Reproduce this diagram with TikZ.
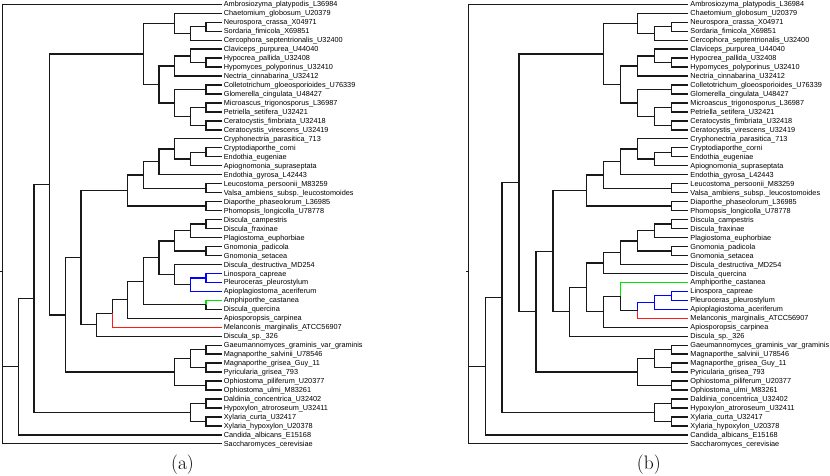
\documentclass[tikz,border=0pt]{standalone}
\usepackage{fontspec}
\newfontfamily\lblfont{Liberation Sans}
\usetikzlibrary{calc}
\tikzset{
  br/.style={line width=1.3pt, draw=black!90},
  lbl/.style={anchor=base west, inner sep=0pt, xshift=2pt, yshift=-2.6pt,
    font=\lblfont\fontsize{7.3}{8}\selectfont, text=black},
  captxt/.style={font=\fontsize{19.5}{22}\selectfont, anchor=base, inner sep=0pt},
  blu/.style={draw=blue}, grn/.style={draw=green!90!black}, rd/.style={draw=red!90!white}
}
\newcommand\leaf[4]{\coordinate (#1) at (#2,{4.3+(#3-1)*8.97}); \node[lbl] (#1t) at (#1) {#4};}
\newcommand\inn[6]{\path let \p1=($(#3)!0.5!(#4)$), \p2=(#2) in (\x2,\y1) coordinate (#1);
  \draw[br,#5] (#1) |- (#3); \draw[br,#6] (#1) |- (#4);}
\begin{document}
\begin{tikzpicture}[x=1pt,y=-1pt]
\useasboundingbox (0,0) rectangle (830,476);
\foreach \k in {0,...,14} {\coordinate (A\k) at ({2.7+15.64*\k},0);}
\foreach \k in {0,...,13} {\coordinate (B\k) at ({468.3+16.92*\k},0);}
\coordinate (A00) at (0,0);
\coordinate (B00) at (465.6,0);
% ---------------- tree (a) leaves
\leaf{a1}{221.66}{1}{Ambrosiozyma\_platypodis\_L36984}
\leaf{a2}{221.66}{2}{Chaetomium\_globosum\_U20379}
\leaf{a3}{221.66}{3}{Neurospora\_crassa\_X04971}
\leaf{a4}{221.66}{4}{Sordaria\_fimicola\_X69851}
\leaf{a5}{221.66}{5}{Cercophora\_septentrionalis\_U32400}
\leaf{a6}{221.66}{6}{Claviceps\_purpurea\_U44040}
\leaf{a7}{221.66}{7}{Hypocrea\_pallida\_U32408}
\leaf{a8}{221.66}{8}{Hypomyces\_polyporinus\_U32410}
\leaf{a9}{221.66}{9}{Nectria\_cinnabarina\_U32412}
\leaf{a10}{221.66}{10}{Colletotrichum\_gloeosporioides\_U76339}
\leaf{a11}{221.66}{11}{Glomerella\_cingulata\_U48427}
\leaf{a12}{221.66}{12}{Microascus\_trigonosporus\_L36987}
\leaf{a13}{221.66}{13}{Petriella\_setifera\_U32421}
\leaf{a14}{221.66}{14}{Ceratocystis\_fimbriata\_U32418}
\leaf{a15}{221.66}{15}{Ceratocystis\_virescens\_U32419}
\leaf{a16}{221.66}{16}{Cryphonectria\_parasitica\_713}
\leaf{a17}{221.66}{17}{Cryptodiaporthe\_corni}
\leaf{a18}{221.66}{18}{Endothia\_eugeniae}
\leaf{a19}{221.66}{19}{Apiognomonia\_supraseptata}
\leaf{a20}{221.66}{20}{Endothia\_gyrosa\_L42443}
\leaf{a21}{221.66}{21}{Leucostoma\_persoonii\_M83259}
\leaf{a22}{221.66}{22}{Valsa\_ambiens\_subsp.\_leucostomoides}
\leaf{a23}{221.66}{23}{Diaporthe\_phaseolorum\_L36985}
\leaf{a24}{221.66}{24}{Phomopsis\_longicolla\_U78778}
\leaf{a25}{221.66}{25}{Discula\_campestris}
\leaf{a26}{221.66}{26}{Discula\_fraxinae}
\leaf{a27}{221.66}{27}{Plagiostoma\_euphorbiae}
\leaf{a28}{221.66}{28}{Gnomonia\_padicola}
\leaf{a29}{221.66}{29}{Gnomonia\_setacea}
\leaf{a30}{221.66}{30}{Discula\_destructiva\_MD254}
\leaf{a31}{221.66}{31}{Linospora\_capreae}
\leaf{a32}{221.66}{32}{Pleuroceras\_pleurostylum}
\leaf{a33}{221.66}{33}{Apioplagiostoma\_aceriferum}
\leaf{a34}{221.66}{34}{Amphiporthe\_castanea}
\leaf{a35}{221.66}{35}{Discula\_quercina}
\leaf{a36}{221.66}{36}{Apiosporopsis\_carpinea}
\leaf{a37}{221.66}{37}{Melanconis\_marginalis\_ATCC56907}
\leaf{a38}{221.66}{38}{Discula\_sp.\_326}
\leaf{a39}{221.66}{39}{Gaeumannomyces\_graminis\_var\_graminis}
\leaf{a40}{221.66}{40}{Magnaporthe\_salvinii\_U78546}
\leaf{a41}{221.66}{41}{Magnaporthe\_grisea\_Guy\_11}
\leaf{a42}{221.66}{42}{Pyricularia\_grisea\_793}
\leaf{a43}{221.66}{43}{Ophiostoma\_piliferum\_U20377}
\leaf{a44}{221.66}{44}{Ophiostoma\_ulmi\_M83261}
\leaf{a45}{221.66}{45}{Daldinia\_concentrica\_U32402}
\leaf{a46}{221.66}{46}{Hypoxylon\_atroroseum\_U32411}
\leaf{a47}{221.66}{47}{Xylaria\_curta\_U32417}
\leaf{a48}{221.66}{48}{Xylaria\_hypoxylon\_U20378}
\leaf{a49}{221.66}{49}{Candida\_albicans\_E15168}
\leaf{a50}{221.66}{50}{Saccharomyces\_cerevisiae}
% ---------------- tree (a) internal nodes
\inn{aNS}{A13}{a3}{a4}{}{}
\inn{aC}{A12}{aNS}{a5}{}{}
\inn{aB}{A11}{a2}{aC}{}{}
\inn{aHH}{A13}{a7}{a8}{}{}
\inn{aE12}{A12}{a6}{aHH}{}{}
\inn{aE}{A11}{aE12}{a9}{}{}
\inn{aCG}{A13}{a10}{a11}{}{}
\inn{aMP}{A13}{a12}{a13}{}{}
\inn{aCF}{A13}{a14}{a15}{}{}
\inn{aG}{A12}{aMP}{aCF}{}{}
\inn{aF}{A11}{aCG}{aG}{}{}
\inn{aD}{A10}{aE}{aF}{}{}
\inn{aA}{A9}{aB}{aD}{}{}
\inn{aCE}{A13}{a17}{a18}{}{}
\inn{aCEA}{A12}{aCE}{a19}{}{}
\inn{aZ}{A11}{a16}{aCEA}{}{}
\inn{aY}{A10}{aZ}{a20}{}{}
\inn{aLV}{A13}{a21}{a22}{}{}
\inn{aX}{A9}{aY}{aLV}{}{}
\inn{aDP}{A13}{a23}{a24}{}{}
\inn{aL}{A8}{aX}{aDP}{}{}
\inn{aDCF}{A13}{a25}{a26}{}{}
\inn{aW}{A12}{aDCF}{a27}{}{}
\inn{aGG}{A13}{a28}{a29}{}{}
\inn{aT}{A11}{aW}{aGG}{}{}
\inn{aLP}{A13}{a31}{a32}{blu}{blu}
\inn{aV}{A12}{aLP}{a33}{blu}{blu}
\inn{aU}{A11}{a30}{aV}{}{}
\inn{aS}{A10}{aT}{aU}{}{}
\inn{aAD}{A13}{a34}{a35}{grn}{}
\inn{aR}{A9}{aS}{aAD}{}{}
\inn{aQ}{A8}{aR}{a36}{}{}
\inn{aP}{A7}{aQ}{a37}{}{rd}
\inn{aN}{A6}{aP}{a38}{}{}
\inn{aM}{A5}{aL}{aN}{}{}
\inn{aGM}{A13}{a39}{a40}{}{}
\inn{aMPy}{A13}{a41}{a42}{}{}
\inn{aO12}{A12}{aGM}{aMPy}{}{}
\inn{aOO}{A13}{a43}{a44}{}{}
\inn{aO}{A11}{aO12}{aOO}{}{}
\inn{aI}{A4}{aM}{aO}{}{}
\inn{aH}{A3}{aA}{aI}{}{}
\inn{aDH}{A13}{a45}{a46}{}{}
\inn{aXX}{A13}{a47}{a48}{}{}
\inn{aXy}{A12}{aDH}{aXX}{}{}
\inn{aJ}{A2}{aH}{aXy}{}{}
\inn{aK}{A1}{aJ}{a49}{}{}
\path let \p1=($0.33333*(a1)+0.33333*(aK)+0.33334*(a50)$), \p2=(A0) in (\x2,\y1) coordinate (aroot);
\draw[br] (aroot) |- (a1);
\draw[br] (aroot) |- (aK);
\draw[br] (aroot) |- (a50);
\path (aroot -| A00) coordinate (ain);
\draw[br] (ain) -- (aroot);
% ---------------- tree (b) leaves
\leaf{b1}{688.26}{1}{Ambrosiozyma\_platypodis\_L36984}
\leaf{b2}{688.26}{2}{Chaetomium\_globosum\_U20379}
\leaf{b3}{688.26}{3}{Neurospora\_crassa\_X04971}
\leaf{b4}{688.26}{4}{Sordaria\_fimicola\_X69851}
\leaf{b5}{688.26}{5}{Cercophora\_septentrionalis\_U32400}
\leaf{b6}{688.26}{6}{Claviceps\_purpurea\_U44040}
\leaf{b7}{688.26}{7}{Hypocrea\_pallida\_U32408}
\leaf{b8}{688.26}{8}{Hypomyces\_polyporinus\_U32410}
\leaf{b9}{688.26}{9}{Nectria\_cinnabarina\_U32412}
\leaf{b10}{688.26}{10}{Colletotrichum\_gloeosporioides\_U76339}
\leaf{b11}{688.26}{11}{Glomerella\_cingulata\_U48427}
\leaf{b12}{688.26}{12}{Microascus\_trigonosporus\_L36987}
\leaf{b13}{688.26}{13}{Petriella\_setifera\_U32421}
\leaf{b14}{688.26}{14}{Ceratocystis\_fimbriata\_U32418}
\leaf{b15}{688.26}{15}{Ceratocystis\_virescens\_U32419}
\leaf{b16}{688.26}{16}{Cryphonectria\_parasitica\_713}
\leaf{b17}{688.26}{17}{Cryptodiaporthe\_corni}
\leaf{b18}{688.26}{18}{Endothia\_eugeniae}
\leaf{b19}{688.26}{19}{Apiognomonia\_supraseptata}
\leaf{b20}{688.26}{20}{Endothia\_gyrosa\_L42443}
\leaf{b21}{688.26}{21}{Leucostoma\_persoonii\_M83259}
\leaf{b22}{688.26}{22}{Valsa\_ambiens\_subsp.\_leucostomoides}
\leaf{b23}{688.26}{23}{Diaporthe\_phaseolorum\_L36985}
\leaf{b24}{688.26}{24}{Phomopsis\_longicolla\_U78778}
\leaf{b25}{688.26}{25}{Discula\_campestris}
\leaf{b26}{688.26}{26}{Discula\_fraxinae}
\leaf{b27}{688.26}{27}{Plagiostoma\_euphorbiae}
\leaf{b28}{688.26}{28}{Gnomonia\_padicola}
\leaf{b29}{688.26}{29}{Gnomonia\_setacea}
\leaf{b30}{688.26}{30}{Discula\_destructiva\_MD254}
\leaf{b31}{688.26}{31}{Discula\_quercina}
\leaf{b32}{688.26}{32}{Amphiporthe\_castanea}
\leaf{b33}{688.26}{33}{Linospora\_capreae}
\leaf{b34}{688.26}{34}{Pleuroceras\_pleurostylum}
\leaf{b35}{688.26}{35}{Apioplagiostoma\_aceriferum}
\leaf{b36}{688.26}{36}{Melanconis\_marginalis\_ATCC56907}
\leaf{b37}{688.26}{37}{Apiosporopsis\_carpinea}
\leaf{b38}{688.26}{38}{Discula\_sp.\_326}
\leaf{b39}{688.26}{39}{Gaeumannomyces\_graminis\_var\_graminis}
\leaf{b40}{688.26}{40}{Magnaporthe\_salvinii\_U78546}
\leaf{b41}{688.26}{41}{Magnaporthe\_grisea\_Guy\_11}
\leaf{b42}{688.26}{42}{Pyricularia\_grisea\_793}
\leaf{b43}{688.26}{43}{Ophiostoma\_piliferum\_U20377}
\leaf{b44}{688.26}{44}{Ophiostoma\_ulmi\_M83261}
\leaf{b45}{688.26}{45}{Daldinia\_concentrica\_U32402}
\leaf{b46}{688.26}{46}{Hypoxylon\_atroroseum\_U32411}
\leaf{b47}{688.26}{47}{Xylaria\_curta\_U32417}
\leaf{b48}{688.26}{48}{Xylaria\_hypoxylon\_U20378}
\leaf{b49}{688.26}{49}{Candida\_albicans\_E15168}
\leaf{b50}{688.26}{50}{Saccharomyces\_cerevisiae}
% ---------------- tree (b) internal nodes
\inn{bNS}{B12}{b3}{b4}{}{}
\inn{bC}{B11}{bNS}{b5}{}{}
\inn{bB}{B10}{b2}{bC}{}{}
\inn{bHH}{B12}{b7}{b8}{}{}
\inn{bE12}{B11}{b6}{bHH}{}{}
\inn{bE}{B10}{bE12}{b9}{}{}
\inn{bCG}{B12}{b10}{b11}{}{}
\inn{bMP}{B12}{b12}{b13}{}{}
\inn{bCF}{B12}{b14}{b15}{}{}
\inn{bG}{B11}{bMP}{bCF}{}{}
\inn{bF}{B10}{bCG}{bG}{}{}
\inn{bD}{B9}{bE}{bF}{}{}
\inn{bA}{B8}{bB}{bD}{}{}
\inn{bCE}{B12}{b17}{b18}{}{}
\inn{bCEA}{B11}{bCE}{b19}{}{}
\inn{bZ}{B10}{b16}{bCEA}{}{}
\inn{bY}{B9}{bZ}{b20}{}{}
\inn{bLV}{B12}{b21}{b22}{}{}
\inn{bX}{B8}{bY}{bLV}{}{}
\inn{bDP}{B12}{b23}{b24}{}{}
\inn{bL}{B7}{bX}{bDP}{}{}
\inn{bDCF}{B12}{b25}{b26}{}{}
\inn{bW}{B11}{bDCF}{b27}{}{}
\inn{bGG}{B12}{b28}{b29}{}{}
\inn{bT}{B10}{bW}{bGG}{}{}
\inn{bR}{B9}{bT}{b30}{}{}
\inn{bQ}{B8}{bR}{b31}{}{}
\inn{bLP}{B12}{b33}{b34}{blu}{blu}
\inn{bV}{B11}{bLP}{b35}{blu}{blu}
\inn{bX2}{B10}{bV}{b36}{blu}{rd}
\inn{bX1}{B9}{b32}{bX2}{grn}{}
\inn{bY2}{B8}{bX1}{b37}{}{}
\inn{bP}{B7}{bQ}{bY2}{}{}
\inn{bN}{B6}{bP}{b38}{}{}
\inn{bM}{B5}{bL}{bN}{}{}
\inn{bGM}{B12}{b39}{b40}{}{}
\inn{bMPy}{B12}{b41}{b42}{}{}
\inn{bO12}{B11}{bGM}{bMPy}{}{}
\inn{bOO}{B12}{b43}{b44}{}{}
\inn{bO}{B10}{bO12}{bOO}{}{}
\inn{bI}{B4}{bM}{bO}{}{}
\inn{bH}{B3}{bA}{bI}{}{}
\inn{bDH}{B12}{b45}{b46}{}{}
\inn{bXX}{B12}{b47}{b48}{}{}
\inn{bXy}{B11}{bDH}{bXX}{}{}
\inn{bJ}{B2}{bH}{bXy}{}{}
\inn{bK}{B1}{bJ}{b49}{}{}
\path let \p1=($0.33333*(b1)+0.33333*(bK)+0.33334*(b50)$), \p2=(B0) in (\x2,\y1) coordinate (broot);
\draw[br] (broot) |- (b1);
\draw[br] (broot) |- (bK);
\draw[br] (broot) |- (b50);
\path (broot -| B00) coordinate (bin);
\draw[br] (bin) -- (broot);
% ---------------- captions
\node[captxt] (capa) at (182.5,469.6) {(a)};
\node[captxt] (capb) at (648.8,469.6) {(b)};
\end{tikzpicture}
\end{document}
